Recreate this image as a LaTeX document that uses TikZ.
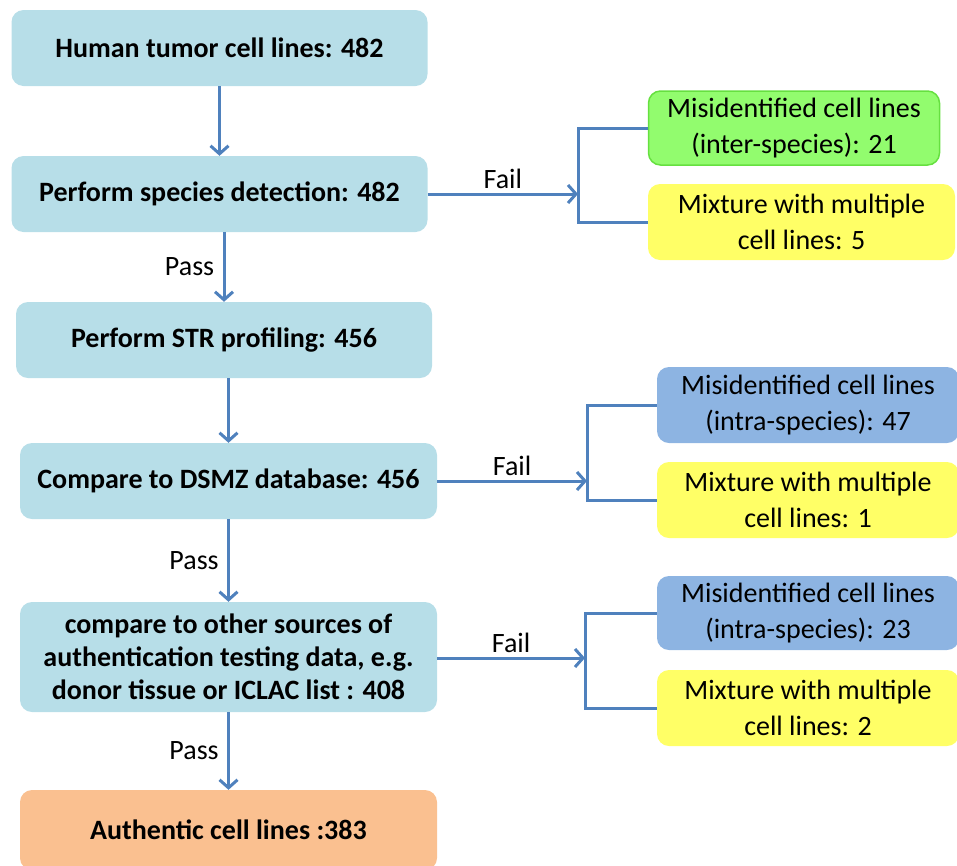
\documentclass[tikz,border=0pt]{standalone}
\usepackage{fontspec}
\setmainfont{Carlito}
\usetikzlibrary{arrows.meta}
\definecolor{stageblue}{HTML}{B7DEE8}
\definecolor{linkblue}{HTML}{4F81BD}
\definecolor{interfill}{HTML}{92FC6E}
\definecolor{interline}{HTML}{66E040}
\definecolor{mixfill}{HTML}{FFFF66}
\definecolor{intrafill}{HTML}{8DB4E2}
\definecolor{authfill}{HTML}{FAC090}
\begin{document}
\begin{tikzpicture}[x=1pt,y=-1pt,
  stage/.style={rectangle, rounded corners=12pt, fill=stageblue, minimum width=416pt,
    minimum height=76pt, align=center, font=\fontsize{28}{33}\selectfont\bfseries},
  result/.style={rectangle, rounded corners=12pt, minimum width=302pt, minimum height=76pt,
    align=center, font=\fontsize{28}{36}\selectfont},
  flow/.style={draw=linkblue, line width=3pt, -{Straight Barb[length=8pt,width=18pt,line width=3pt]}},
  link/.style={draw=linkblue, line width=3pt},
  lbl/.style={font=\fontsize{28}{32}\selectfont}]
\useasboundingbox (0,0) rectangle (957,865);
% main column
\node[stage] (s1) at (219.5,48) {Human tumor cell lines: 482};
\node[stage] (s2) at (219.5,194) {Perform species detection: 482};
\node[stage] (s3) at (224,340) {Perform STR profiling: 456};
\node[stage, minimum width=417pt] (s4) at (228.5,481) {Compare to DSMZ database: 456};
\node[stage, minimum width=417pt, minimum height=110pt] (s5) at (228.5,657)
  {compare to other sources of\\authentication testing data, e.g.\\donor tissue or ICLAC list : 408};
\node[stage, fill=authfill, minimum width=417pt, minimum height=80pt] (s6) at (228.5,830) {Authentic cell lines :383};
% failed lines
\node[result, fill=interfill, draw=interline, line width=1.5pt, minimum width=291pt, minimum height=74pt] (r1) at (794,128)
  {Misidentified cell lines\\(inter-species): 21};
\node[result, fill=mixfill, minimum width=307pt] (r2) at (801.5,222) {Mixture with multiple\\cell lines: 5};
\node[result, fill=intrafill] (r3) at (808,405) {Misidentified cell lines\\(intra-species): 47};
\node[result, fill=mixfill] (r4) at (808,500) {Mixture with multiple\\cell lines: 1};
\node[result, fill=intrafill, minimum height=74pt] (r5) at (808,613) {Misidentified cell lines\\(intra-species): 23};
\node[result, fill=mixfill] (r6) at (808,708) {Mixture with multiple\\cell lines: 2};
\coordinate (j1) at (578,194);
\coordinate (j2) at (587,481);
\coordinate (j3) at (585,658);
% arrows
\draw[flow] (s1) -- (s2);
\draw[flow] (s3.north |- s2.south) -- node[lbl, left=5pt] {Pass} (s3.north);
\draw[flow] (s4.north |- s3.south) -- (s4.north);
\draw[flow] (s4) -- node[lbl, left=5pt] {Pass} (s5);
\draw[flow] (s5) -- node[lbl, left=5pt] {Pass} (s6);
\draw[flow] (s2.east) -- node[lbl, above=0pt] {Fail} (j1);
\draw[flow] (s4.east) -- node[lbl, above=0pt] {Fail} (j2);
\draw[flow] (j3 -| s5.east) -- node[lbl, above=0pt] {Fail} (j3);
\draw[link] (r1.west) -| (j1) |- (r2.west);
\draw[link] (r3.west) -| (j2) |- (r4.west);
\draw[link] (r5.west) -| (j3) |- (r6.west);
\end{tikzpicture}
\end{document}
